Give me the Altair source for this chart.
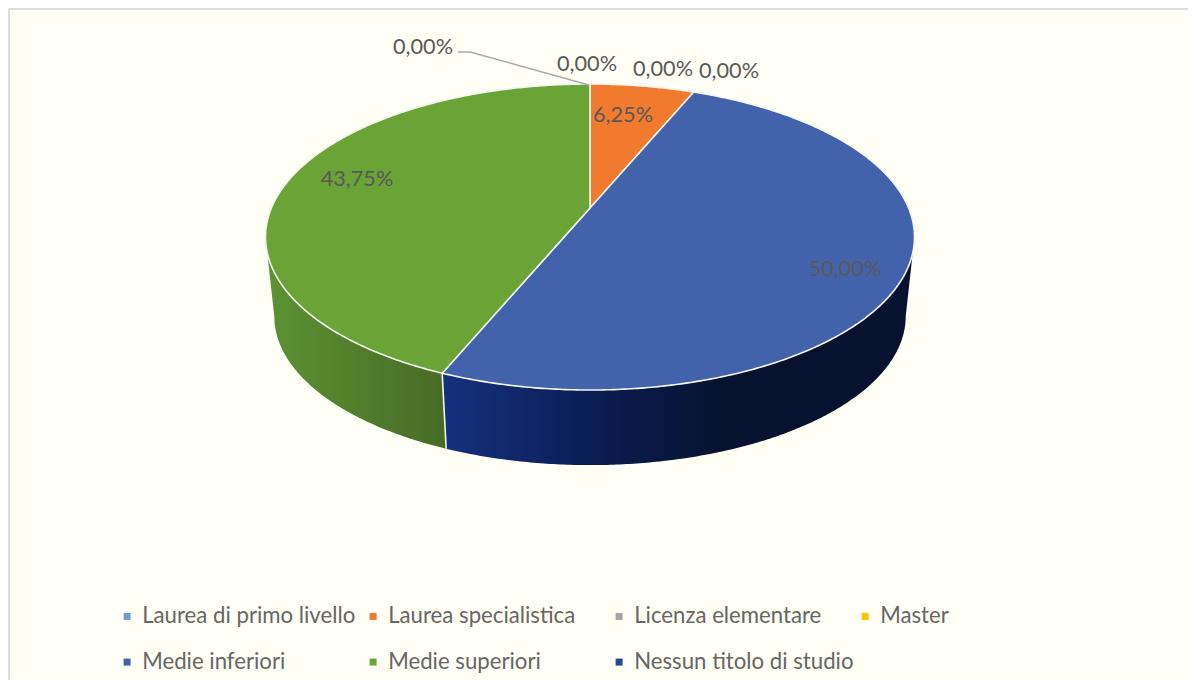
import math
import altair as alt
import pandas as pd

CATEGORIES = ["Laurea di primo livello", "Laurea specialistica", "Licenza elementare", "Master",
              "Medie inferiori", "Medie superiori", "Nessun titolo di studio"]
SHARES = [0.0, 6.25, 0.0, 0.0, 50.0, 43.75, 0.0]
COLORS = ["#6E9FD2", "#F27A2E", "#A5A5A5", "#FFC000", "#4263AB", "#6AA336", "#1F4E8C"]
LABELS = ["0,00%", "6,25%", "0,00%", "0,00%", "50,00%", "43,75%", "0,00%"]

# layout (chart pixels): perspective projection of the pie disc
W, H = 1180, 672
CX, CY = 582, 200
A, B, K = 318.6, 147.5, 0.1896
WALL_S, WALL_CY = 0.973, 280
FONT = "Lato"
TEXT = "#595959"
LABEL_XY = [(579, 56), (615, 107), (655, 61), (721, 63), (837, 261), (349, 171), (415, 39)]
LEADER = [(450, 44), (462, 44), (581, 77)]
TANGENT = math.degrees(math.acos(-K))


def rim(deg, s=1.0, cy=CY):
    t = math.radians(deg)
    X, Y = math.sin(t), math.cos(t)
    w = 1 + K * Y
    return CX + s * A * X / w, cy - s * B * Y / w


def spans():
    out, c = [], 0.0
    for v in SHARES:
        out.append((c, c + v * 3.6))
        c += v * 3.6
    return out


def steps(a, b):
    n = max(2, int((b - a) * 2))
    return [a + (b - a) * i / n for i in range(n + 1)]


top, wall, seam = [], [], []
for cat, (a, b) in zip(CATEGORIES, spans()):
    if b <= a:
        continue
    pts = [(CX, CY)] + [rim(d) for d in steps(a, b)] + [(CX, CY)]
    for i, (x, y) in enumerate(pts):
        top.append(dict(cat=cat, i=i, x=x, y=y))
    a2, b2 = max(a, TANGENT), min(b, 360 - TANGENT)
    if b2 > a2:
        pts = [rim(d) for d in steps(a2, b2)] + [rim(d, WALL_S, WALL_CY) for d in reversed(steps(a2, b2))]
        pts.append(pts[0])
        for i, (x, y) in enumerate(pts):
            wall.append(dict(cat=cat, i=i, x=x, y=y))
    if TANGENT < b < 360 - TANGENT:
        for i, (x, y) in enumerate([rim(b), rim(b, WALL_S, WALL_CY)]):
            seam.append(dict(i=i, x=x, y=y))

top, wall, seam = map(pd.DataFrame, (top, wall, seam))
labels = pd.DataFrame(dict(t=LABELS, x=[p[0] for p in LABEL_XY], y=[p[1] for p in LABEL_XY]))
leader = pd.DataFrame([dict(i=i, x=x, y=y) for i, (x, y) in enumerate(LEADER)])

xs = alt.Scale(domain=[0, W], range=[0, W])
ys = alt.Scale(domain=[0, H], range=[0, H])
X = alt.X("x:Q", scale=xs, axis=None)
Y = alt.Y("y:Q", scale=ys, axis=None)
O = alt.Order("i:Q")

blue_grad = alt.LinearGradient(gradient="linear", x1=0, x2=1, y1=0, y2=0, stops=[
    alt.GradientStop(color="#15317F", offset=0), alt.GradientStop(color="#0B1E55", offset=0.3),
    alt.GradientStop(color="#06122F", offset=0.6), alt.GradientStop(color="#06122F", offset=1)])
green_grad = alt.LinearGradient(gradient="linear", x1=0, x2=1, y1=0, y2=0, stops=[
    alt.GradientStop(color="#5C9333", offset=0), alt.GradientStop(color="#476B26", offset=1)])

def wall_layer(cat, grad):
    return (alt.Chart(wall[wall.cat == cat]).mark_line(fill=grad, strokeWidth=0)
            .encode(x=X, y=Y, order=O))

faces = alt.Chart(top).mark_line(stroke="#F4F6EE", strokeWidth=1.6, strokeJoin="round").encode(
    x=X, y=Y, order=O,
    fill=alt.Fill("cat:N", scale=alt.Scale(domain=CATEGORIES, range=COLORS), legend=alt.Legend(
        title=None, orient="none", legendX=108, legendY=597, columns=4, direction="horizontal",
        gridAlign="all", columnPadding=-10, rowPadding=23, symbolType="square", symbolSize=49,
        symbolStrokeWidth=0, labelFont=FONT, labelFontSize=22.2, labelColor="#666666", labelOffset=4,
        labelLimit=300)),
)
seams = alt.Chart(seam).mark_line(stroke="#F4F6EE", strokeWidth=1.6).encode(x=X, y=Y, order=O)
lead = alt.Chart(leader).mark_line(stroke="#A9A9A9", strokeWidth=1.5).encode(x=X, y=Y, order=O)
text = alt.Chart(labels).mark_text(font=FONT, fontSize=21.7, color=TEXT).encode(x=X, y=Y, text="t:N")
frame_top = alt.Chart().mark_rule(color="#DEDEDE", strokeWidth=2).encode(x=alt.value(0), x2=alt.value(W), y=alt.value(1))
frame_left = alt.Chart().mark_rule(color="#DEDEDE", strokeWidth=2).encode(y=alt.value(0), y2=alt.value(H), x=alt.value(1))

chart = alt.layer(
    frame_top, frame_left,
    wall_layer("Medie inferiori", blue_grad), wall_layer("Medie superiori", green_grad),
    seams, faces, lead, text,
).properties(width=W, height=H, background="#FFFFF5", padding=0,
             autosize=alt.AutoSizeParams(type="none")
).configure_view(stroke=None)

chart.save("out.html", embed_options={"renderer": "svg", "actions": False})
